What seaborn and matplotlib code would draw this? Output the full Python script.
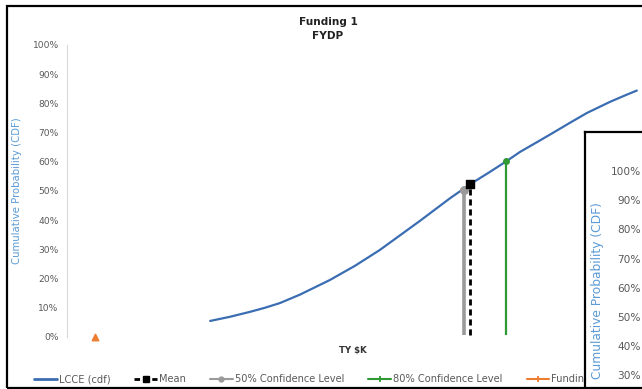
import numpy as np
import pandas as pd
import matplotlib
matplotlib.use("Agg")
import matplotlib.pyplot as plt
from matplotlib.lines import Line2D
from matplotlib.patches import Rectangle
import seaborn as sns

# ---- data (x in TY $K, arbitrary scale) ----
cost = [249, 283, 318, 344, 370, 405, 457, 501, 544, 579, 614, 666, 701, 736, 765, 788, 818, 845, 875, 904, 944, 970, 991]
cdf = [0.055, 0.069, 0.086, 0.100, 0.116, 0.145, 0.195, 0.244, 0.298, 0.348, 0.398, 0.475, 0.523, 0.566,
       0.603, 0.634, 0.668, 0.699, 0.734, 0.767, 0.805, 0.827, 0.844]
mean_x, mean_p = 701, 0.523
cl50_x, cl50_p = 690, 0.503
cl80_x, cl80_p = 764, 0.603
funding_x, funding_p = 48, 0.0
yticks = [0, 0.1, 0.2, 0.3, 0.4, 0.5, 0.6, 0.7, 0.8, 0.9, 1.0]
ytick_labels = ["0%", "10%", "20%", "30%", "40%", "50%", "60%", "70%", "80%", "90%", "100%"]
inset_ticks = [0.3, 0.4, 0.5, 0.6, 0.7, 0.8, 0.9, 1.0]
inset_labels = ["30%", "40%", "50%", "60%", "70%", "80%", "90%", "100%"]
legend_labels = ["LCCE (cdf)", "Mean", "50% Confidence Level", "80% Confidence Level", "Funding"]

BLUE = "#3b6db3"
LBLUE = "#5b9bd5"
GREEN = "#2f9a34"
GREY = "#9a9a9a"
ORANGE = "#ed7d31"
TXT = "#595959"

sns.set_theme(style="white")
plt.rcParams["font.family"] = ["DejaVu Sans"]

W, H = 642, 389
fig = plt.figure(figsize=(W / 100, H / 100), dpi=100)
fig.patch.set_facecolor("white")

def fx(px):
    return px / W

def fy(py):
    return 1 - py / H

# main axes: y axis at x=67, 0% at y=337, 100% at y=45
ax = fig.add_axes([fx(67), fy(337), 1 - fx(67), (337 - 45) / H])
ax.set_xlim(0, 1000)
ax.set_ylim(0, 1)

df = pd.DataFrame({"cost": cost, "cdf": cdf})
sns.lineplot(data=df, x="cost", y="cdf", ax=ax, color=BLUE, lw=1.6, sort=True)

ax.vlines(cl50_x, 0.007, cl50_p, color=GREY, lw=2.6, zorder=3)
ax.vlines(mean_x, 0.007, mean_p, color="black", lw=2, linestyles=(0, (2.2, 1.4)), zorder=4)
ax.vlines(cl80_x, 0.007, cl80_p, color=GREEN, lw=1.6, zorder=3)
ax.scatter([cl50_x], [cl50_p], marker="o", s=30, color=GREY, zorder=5)
ax.scatter([mean_x], [mean_p], marker="s", s=38, color="black", zorder=6)
ax.scatter([cl80_x], [cl80_p], marker="o", s=16, color=GREEN, zorder=5)
ax.scatter([funding_x], [funding_p], marker="^", s=22, color=ORANGE, zorder=5, clip_on=False)

ax.set_yticks(yticks)
ax.set_yticklabels(ytick_labels)
ax.set_xticks([])
ax.tick_params(axis="y", length=0, pad=6, labelsize=6.6, labelcolor=TXT)
for s in ["top", "right", "bottom"]:
    ax.spines[s].set_visible(False)
ax.spines["left"].set_color("#d9d9d9")
ax.spines["left"].set_linewidth(0.8)
ax.set_xlabel("")
ax.set_ylabel("Cumulative Probability (CDF)", color=LBLUE, fontsize=7.3)
ax.yaxis.set_label_coords(-0.078, 0.5)

# titles
fig.text(fx(328), fy(22), "Funding 1", ha="center", va="center", fontsize=7.6, fontweight="bold", color="#222222")
fig.text(fx(328), fy(36), "FYDP", ha="center", va="center", fontsize=7.6, fontweight="bold", color="#222222")
fig.text(fx(353), fy(350), "TY $K", ha="center", va="center", fontsize=6.2, fontweight="bold", color="#333333")

# legend
handles = [
    Line2D([], [], color=BLUE, lw=2),
    Line2D([], [], color="black", lw=2, ls=(0, (2, 1.2)), marker="s", ms=4),
    Line2D([], [], color=GREY, lw=1.5, marker="o", ms=3.5),
    Line2D([], [], color=GREEN, lw=1.5, marker="+", ms=4, mew=1.3),
    Line2D([], [], color=ORANGE, lw=1.5, marker="+", ms=4, mew=1.3),
]
leg = fig.legend(handles, legend_labels, loc="center left", bbox_to_anchor=(fx(34), fy(379)),
                 ncol=5, frameon=False, fontsize=7.1, handlelength=2.3, handletextpad=0.2,
                 columnspacing=2.45, borderaxespad=0, borderpad=0)
for t in leg.get_texts():
    t.set_color(TXT)

# outer frame
fig.patches.append(Rectangle((fx(7), fy(388)), 1.2, (388 - 6) / H, transform=fig.transFigure,
                             fill=False, ec="black", lw=1.6, zorder=20))

# overlapping second chart panel (bottom right)
panel = fig.add_axes([fx(585), fy(420), 0.2, (420 - 132) / H], zorder=10)
panel.set_facecolor("white")
panel.set_xticks([])
panel.set_yticks([])
for s in panel.spines.values():
    s.set_color("black")
    s.set_linewidth(1.6)

inner = fig.add_axes([fx(648), fy(463), 0.05, (463 - 171) / H], zorder=11)
inner.patch.set_alpha(0)
inner.set_ylim(0, 1)
inner.set_xticks([])
inner.set_yticks(inset_ticks)
inner.set_yticklabels(inset_labels)
inner.tick_params(axis="y", length=0, pad=5, labelsize=7.6, labelcolor=TXT)
for s in inner.spines.values():
    s.set_visible(False)
fig.text(fx(597), fy(202), "Cumulative Probability (CDF)", rotation=90, ha="center", va="top",
         fontsize=8.8, color=LBLUE, zorder=12)

fig.savefig("out.png", dpi=100)
